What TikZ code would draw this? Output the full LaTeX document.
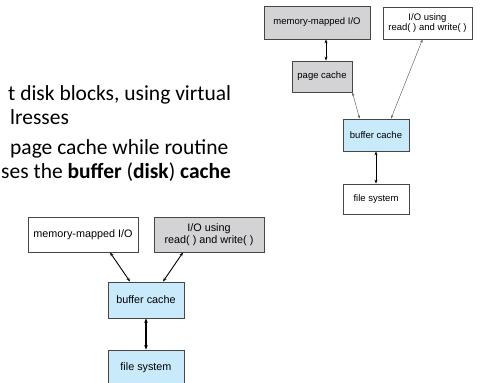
\documentclass[tikz,border=0pt]{standalone}
\usepackage{fontspec}
\setmainfont{Carlito}
\newfontfamily\boxfont{Liberation Sans}
\usetikzlibrary{arrows.meta}
\definecolor{boxgray}{RGB}{211,211,213}
\definecolor{boxblue}{RGB}{200,234,250}
\definecolor{edge}{RGB}{70,70,70}

\begin{document}
\begin{tikzpicture}[x=1pt, y=-1pt,
	box/.style = {rectangle, draw=edge, line width=0.8pt, inner sep=0pt, align=center, font=\boxfont\fontsize{9.5}{10.5}\selectfont},
	big/.style = {font=\boxfont\fontsize{10.8}{12}\selectfont},
	gr/.style = {fill=boxgray},
	bl/.style = {fill=boxblue},
	ln/.style = {anchor=base west, inner sep=0pt, font=\fontsize{21.5}{25}\selectfont},
	lk/.style = {{Stealth[length=4pt,width=3pt]}-{Stealth[length=4pt,width=3pt]}, line width=0.9pt},
	lkgray/.style = {{Stealth[length=3.5pt,width=2.6pt]}-{Stealth[length=3.5pt,width=2.6pt]}, line width=0.4pt, draw=black!60, fill=black!60},
	lkthick/.style = {{Stealth[length=4.5pt,width=3.6pt]}-{Stealth[length=4.5pt,width=3.6pt]}, line width=1.8pt}
	]
	\useasboundingbox (0,0) rectangle (480,383);

	%Text
	\node[ln]	(l1)	at	(8,100)		{t disk blocks, using virtual};
	\node[ln]	(l2)	at	(10,124)	{lresses};
	\node[ln]	(l3)	at	(10,154)	{page cache while routine};
	\node[ln]	(l4)	at	(1,178)		{ses the \textbf{buffer} (\textbf{disk}) \textbf{cache}};

	%Nodes (upper figure)
	\node[box, gr, minimum width=106, minimum height=33]	(mm1)	at	(317,22.5)	{memory-mapped I/O};
	\node[box, minimum width=89, minimum height=32]		(io1)	at	(427.5,23)	{I/O using\\read( ) and write( )};
	\node[box, gr, minimum width=60, minimum height=31]	(pc1)	at	(322,76.5)	{page cache};
	\node[box, bl, minimum width=66, minimum height=32]	(bc1)	at	(376,135)	{buffer cache};
	\node[box, minimum width=66, minimum height=30]		(fs1)	at	(376,199)	{file system};

	%Nodes (lower figure)
	\node[box, big, minimum width=110, minimum height=35]		(mm2)	at	(83,234.5)	{memory-mapped I/O};
	\node[box, big, gr, minimum width=110, minimum height=35]	(io2)	at	(209,234.5)	{I/O using\\read( ) and write( )};
	\node[box, big, bl, minimum width=76, minimum height=36]	(bc2)	at	(146,300)	{buffer cache};
	\node[box, big, bl, minimum width=76, minimum height=36]	(fs2)	at	(146,368)	{file system};

	%Lines
	\draw[lk]		([xshift=4]pc1.north)		to	([xshift=4]pc1.north |- mm1.south);
	\draw[lkgray]	(pc1.south east)			to	([xshift=17]bc1.north west);
	\draw[lkgray]	([xshift=-5]io1.south)		to	([xshift=15]bc1.north);
	\draw[lk]		(bc1.south)					to	(fs1.north);

	\draw[lk]		([xshift=27]mm2.south)		to	([xshift=-16]bc2.north);
	\draw[lk]		([xshift=-26]io2.south)		to	([xshift=17]bc2.north);
	\draw[lkthick]	(bc2.south)					to	(fs2.north);
\end{tikzpicture}
\end{document}
